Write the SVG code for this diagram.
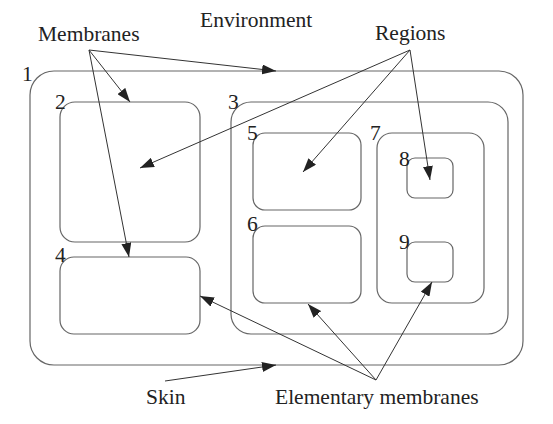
<svg xmlns="http://www.w3.org/2000/svg" width="553" height="424" viewBox="0 0 553 424">
<defs>
<style>
.b{fill:none;stroke:#666;stroke-width:1.2}
.c{fill:none;stroke:#333;stroke-width:1}
text{font-family:"Liberation Serif","DejaVu Serif","Times New Roman",serif;font-size:21.5px;fill:#222}
</style>
<marker id="ah" viewBox="0 0 14 10" refX="14" refY="5" markerWidth="14" markerHeight="10" markerUnits="userSpaceOnUse" orient="auto">
<path d="M0,0 L14,5 L0,10 Z" fill="#222"/>
</marker>
</defs>
<rect width="553" height="424" fill="#fff"/>
<text x="200" y="27">Environment</text>
<text x="38" y="41">Membranes</text>
<text x="375" y="40">Regions</text>
<text x="146" y="404">Skin</text>
<text x="275" y="404">Elementary membranes</text>
<g id="n1"><rect class="b" x="30" y="71" width="493" height="294" rx="24"/><text x="22" y="81">1</text></g>
<g id="n2"><rect class="b" x="60" y="102" width="140" height="140" rx="15"/><text x="55" y="109">2</text></g>
<g id="n3"><rect class="b" x="231" y="102" width="277" height="232" rx="20"/><text x="228" y="109">3</text></g>
<g id="n4"><rect class="b" x="60" y="257" width="140" height="77" rx="14"/><text x="55" y="262">4</text></g>
<g id="n5"><rect class="b" x="253" y="133" width="108" height="77" rx="12"/><text x="247" y="140">5</text></g>
<g id="n6"><rect class="b" x="253" y="226" width="108" height="77" rx="12"/><text x="247" y="231">6</text></g>
<g id="n7"><rect class="b" x="377" y="133" width="107" height="170" rx="15"/><text x="370" y="140">7</text></g>
<g id="n8"><rect class="b" x="407" y="158" width="46" height="40" rx="8"/><text x="399" y="166">8</text></g>
<g id="n9"><rect class="b" x="407" y="242" width="46" height="40" rx="8"/><text x="399" y="249">9</text></g>
<g id="connectors">
<line class="c" x1="89" y1="50" x2="276" y2="71" marker-end="url(#ah)"/>
<line class="c" x1="89" y1="50" x2="130" y2="102" marker-end="url(#ah)"/>
<line class="c" x1="89" y1="50" x2="129" y2="257" marker-end="url(#ah)"/>
<line class="c" x1="410" y1="50" x2="140" y2="168" marker-end="url(#ah)"/>
<line class="c" x1="410" y1="50" x2="303" y2="172" marker-end="url(#ah)"/>
<line class="c" x1="410" y1="50" x2="430" y2="180" marker-end="url(#ah)"/>
<line class="c" x1="165" y1="381" x2="276" y2="365" marker-end="url(#ah)"/>
<line class="c" x1="376" y1="380" x2="200" y2="296" marker-end="url(#ah)"/>
<line class="c" x1="376" y1="380" x2="308" y2="304" marker-end="url(#ah)"/>
<line class="c" x1="376" y1="380" x2="432" y2="282" marker-end="url(#ah)"/>
</g>
</svg>
